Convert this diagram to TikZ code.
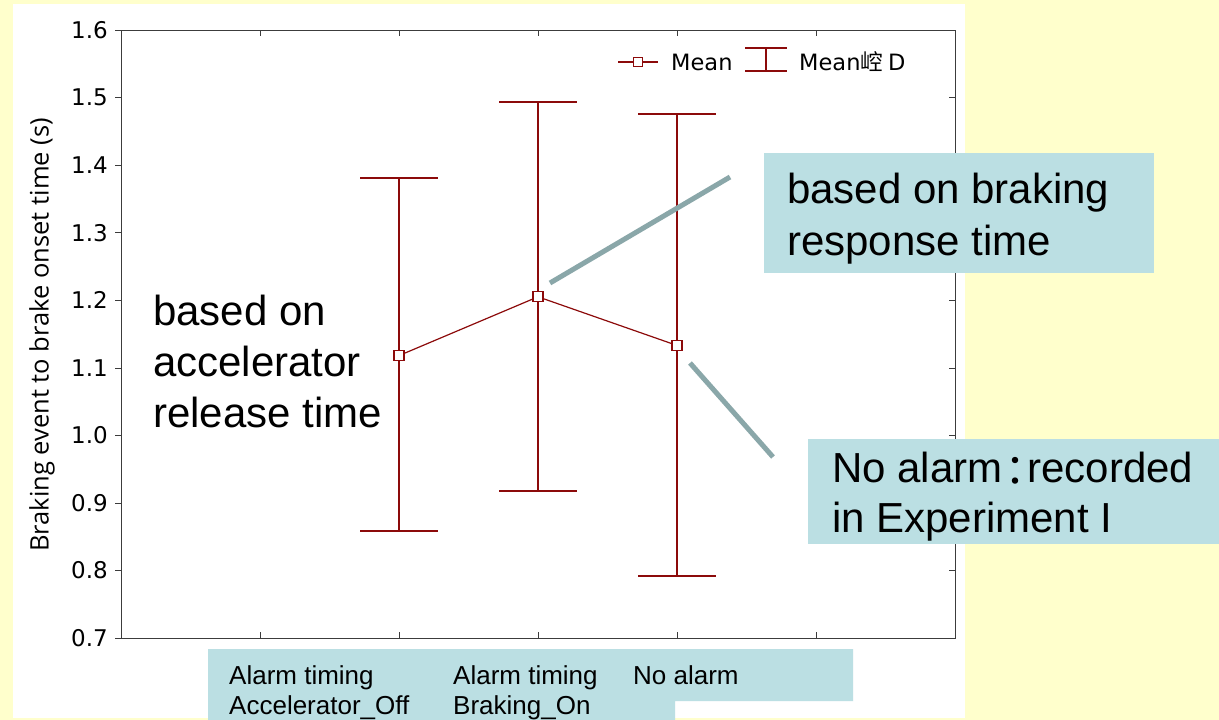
\documentclass[tikz,border=0pt]{standalone}
\usepackage{fontspec}
\usepackage{tikz}
\usepackage{xcolor}
\usetikzlibrary{positioning}
\setmainfont{Liberation Sans}
\newfontfamily\plotfont{DejaVu Sans}
\newfontfamily\axisfont{Open Sans}
\newfontfamily\cjk{Noto Sans CJK SC}
\newfontfamily\cjkpunct{Noto Sans CJK JP}

\definecolor{pagebg}{HTML}{FFFFCC}
\definecolor{barred}{HTML}{8C0A0A}
\definecolor{notebg}{HTML}{BBDFE3}
\definecolor{pointer}{HTML}{8AA7A9}
\definecolor{framegray}{HTML}{3C3C3C}

\tikzset{
  meanmark/.style={draw=barred, fill=white, line width=1.2pt, minimum size=10pt, inner sep=0pt},
  errbar/.style={barred, line width=2pt},
  ticklab/.style={font=\plotfont\fontsize{23}{23}\selectfont, inner sep=0pt},
  bignote/.style={font=\fontsize{42}{51}\selectfont, align=left, inner sep=0pt, anchor=north west},
  catlab/.style={font=\fontsize{26}{30}\selectfont, align=left, inner sep=0pt, anchor=north west}
}

\begin{document}
\begin{tikzpicture}[x=1pt, y=-1pt]
            \useasboundingbox (0,0) rectangle (1219,720);
            \fill[pagebg] (0,0) rectangle (1219,720);
            \fill[white] (13,4) rectangle (965,718);

            % frame and ticks
            \draw[framegray, line width=1pt] (121,30) rectangle (955,638);
            \foreach \i in {1,...,5} {
                \draw[framegray] (121+139*\i,638) -- (121+139*\i,632);
                \draw[framegray] (121+139*\i,30) -- (121+139*\i,36);
            }
            \foreach \k/\lab in {0/0.7,1/0.8,2/0.9,3/1.0,4/1.1,5/1.2,6/1.3,7/1.4,8/1.5,9/1.6} {
                \draw[framegray] (115,638-67.56*\k) -- (121,638-67.56*\k);
                \draw[framegray] (949,638-67.56*\k) -- (955,638-67.56*\k);
                \node[ticklab, anchor=east] (y\k) at (108,638-67.56*\k) {\lab};
            }
            \node[font=\axisfont\fontsize{25.5}{25.5}\selectfont, rotate=90, inner sep=0pt] (ylab) at (42,335)
                {Braking event to brake onset time (s)};

            % means and error bars
            \begin{scope}[shift={(121,1110.9)}, x=139pt, y=675.6pt]
                \foreach \i/\lo/\hi in {2/0.858/1.381, 3/0.918/1.493, 4/0.792/1.475} {
                    \draw[errbar] (\i,\lo) -- (\i,\hi);
                    \draw[errbar] (\i-0.28,\lo) -- (\i+0.28,\lo);
                    \draw[errbar] (\i-0.28,\hi) -- (\i+0.28,\hi);
                }
                \draw[barred, line width=1.2pt] (2,1.118) -- (3,1.205) -- (4,1.133);
                \node[meanmark] (accOff) at (2,1.118) {};
                \node[meanmark] (brkOn) at (3,1.205) {};
                \node[meanmark] (noAlarm) at (4,1.133) {};
            \end{scope}

            % legend
            \draw[barred, line width=1.2pt] (618,62) -- (658,62);
            \node[meanmark, minimum size=9pt] (legMean) at (638,62) {};
            \node[ticklab, anchor=west, font=\plotfont\fontsize{22.5}{22.5}\selectfont] (legMeanTxt) at (671,62) {Mean};
            \draw[errbar] (745,48) -- (787,48);
            \draw[errbar] (766,48) -- (766,71);
            \draw[errbar] (745,71) -- (787,71);
            \node[ticklab, anchor=west, font=\plotfont\fontsize{22.5}{22.5}\selectfont] (legSdTxt) at (799,62) {Mean{\cjk 崆}\kern5pt D};

            % pointers
            \coordinate (brkFrom) at (550,283);
            \coordinate (brkTo) at (730,177);
            \coordinate (noFrom) at (690,363);
            \coordinate (noTo) at (773,457);
            \draw[pointer, line width=5pt] (brkFrom) -- (brkTo);
            \draw[pointer, line width=5pt] (noFrom) -- (noTo);

            % notes
            \node[bignote] (accNote) at (153,295) {based on\\accelerator\\release time};
            \fill[notebg] (764,153) rectangle (1154,273);
            \node[bignote, font=\fontsize{42}{52}\selectfont] (brkNote) at (787,173) {based on braking\\response time};
            \fill[notebg] (808,439) rectangle (1219,544);
            \node[bignote, font=\fontsize{42}{50}\selectfont] (noNote) at (832,452)
                {No alarm\kern-8.5pt\raisebox{-4pt}{\cjkpunct ：}\kern-8.5pt recorded\\in Experiment I};

            % category labels
            \fill[notebg] (208,649) -- (853,649) -- (853,701) -- (675,701) -- (675,720) -- (208,720) -- cycle;
            \node[catlab] (cat1) at (229,665.4) {Alarm timing\\Accelerator\_Off};
            \node[catlab] (cat2) at (453,665.4) {Alarm timing\\Braking\_On};
            \node[catlab] (cat3) at (633,665.4) {No alarm};
        \end{tikzpicture}
\end{document}
